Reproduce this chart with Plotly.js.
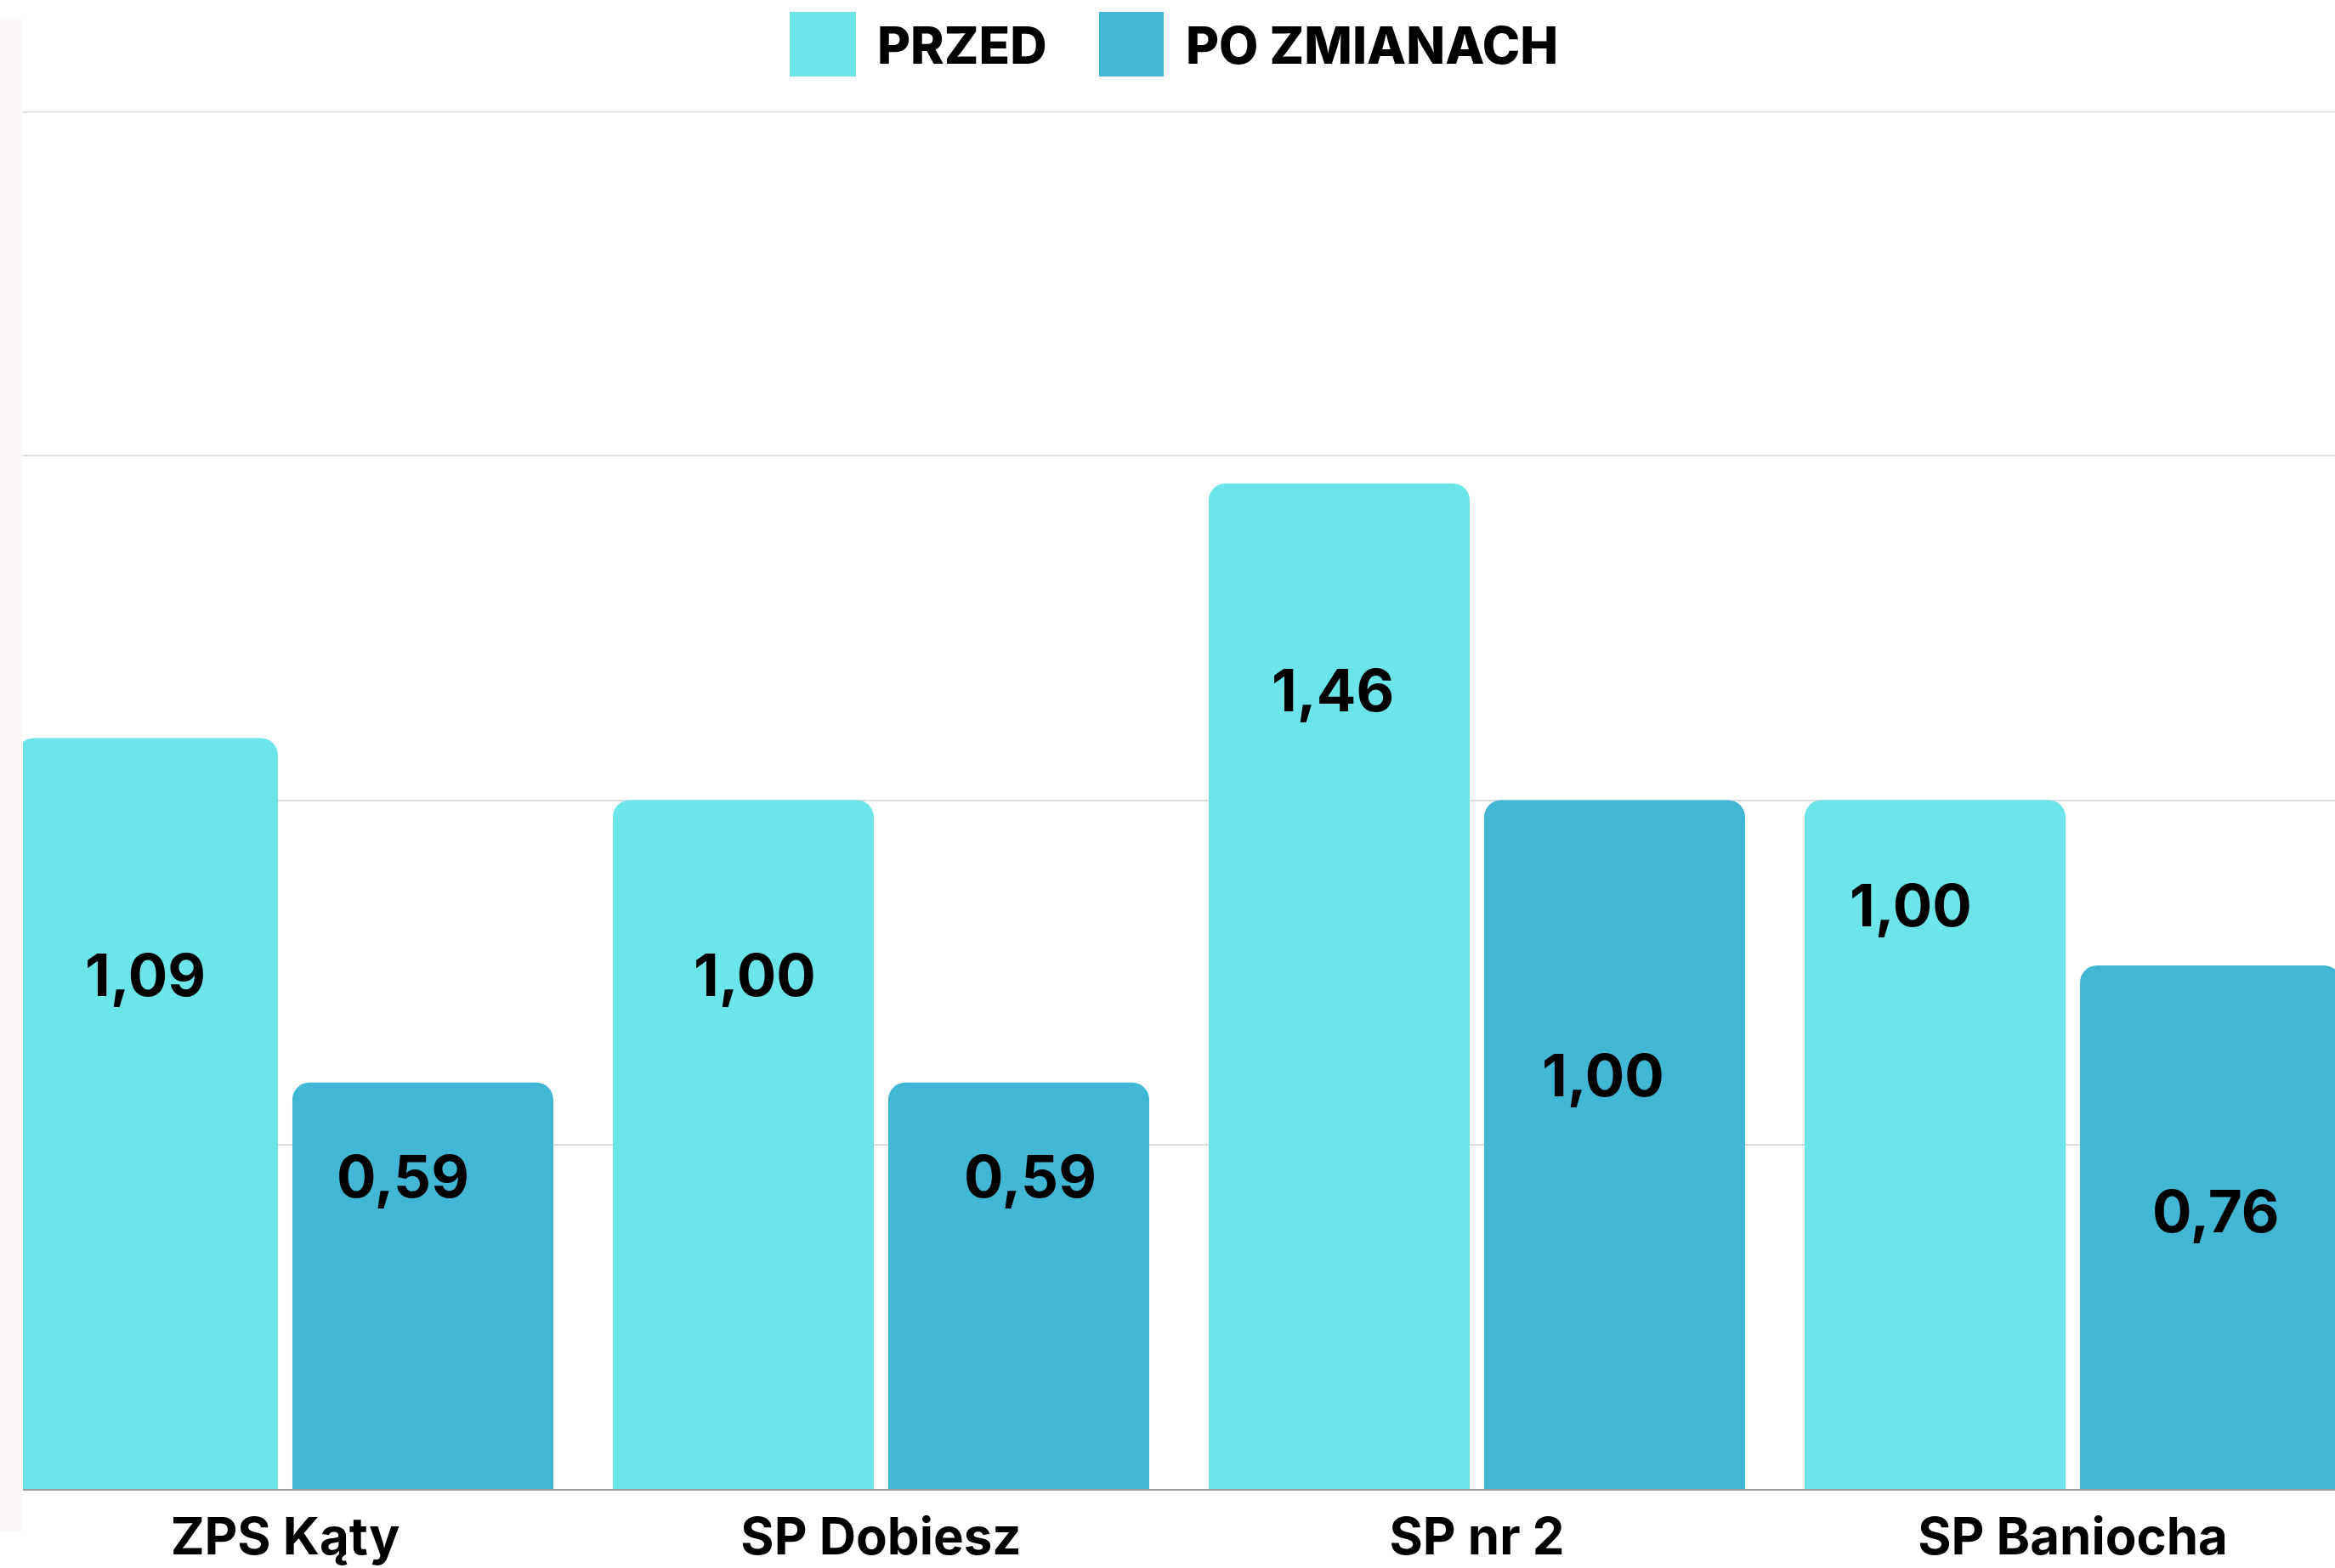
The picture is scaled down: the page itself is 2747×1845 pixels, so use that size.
<!DOCTYPE html>
<html>
<head>
<meta charset="utf-8">
<script src="https://cdn.plot.ly/plotly-3.0.1.min.js"></script>
<style>html,body{margin:0;padding:0;background:#ffffff;overflow:hidden}</style>
</head>
<body>
<div id="chart" style="width:2747px;height:1845px"></div>
<script>
// ---- data ----
const categories = ['ZPS Kąty', 'SP Dobiesz', 'SP nr 2', 'SP Baniocha'];
const seriesNames = ['PRZED', 'PO ZMIANACH'];
const przed = [1.09, 1.00, 1.46, 1.00];
const poZmianach = [0.59, 0.59, 1.00, 0.76];

// ---- label placement (value units / pixel nudges) ----
const przedLabelY = [0.746, 0.746, 1.160, 0.848];
const poLabelY = [0.454, 0.454, 0.601, 0.403];
const przedLabelDx = [-2, 14, -8, -29];
const poLabelDx = [-23, 14, -14, 6];

// ---- styles ----
const colors = ['#6ce5e8', '#42b6d5'];
const W = 2747, H = 1845;
const M = {l: 27, r: 0, t: 131, b: 93};
const bargap = 0.0756;
const off = (1 - bargap) / 4;

const fmt = v => v.toFixed(2).replace('.', ',');

const traces = [przed, poZmianach].map((vals, k) => ({
  type: 'bar',
  name: seriesNames[k],
  x: categories,
  y: vals,
  marker: {color: colors[k], cornerradius: 20, line: {width: 0}},
  hoverinfo: 'skip',
  showlegend: false
}));

const annotations = [];
const labelY = [przedLabelY, poLabelY];
const labelDx = [przedLabelDx, poLabelDx];
[przed, poZmianach].forEach((vals, k) => {
  vals.forEach((v, i) => {
    annotations.push({
      x: i + (k === 0 ? -off : off),
      y: labelY[k][i],
      xref: 'x', yref: 'y',
      text: fmt(v),
      showarrow: false,
      xanchor: 'center', yanchor: 'middle',
      xshift: labelDx[k][i],
      font: {family: 'Inter, sans-serif', size: 69, color: '#000000', weight: 700}
    });
  });
});

// manual legend (paper coords)
const pw = W - M.l - M.r, ph = H - M.t - M.b;
const px = x => (x - M.l) / pw;
const py = y => (H - M.b - y) / ph;
const legendSquares = [[929, 1007], [1293, 1369]];
const legendTextX = [1030, 1393];
const shapes = [];
legendSquares.forEach((s, k) => {
  shapes.push({
    type: 'rect', xref: 'paper', yref: 'paper',
    x0: px(s[0]), x1: px(s[1]), y0: py(90), y1: py(14),
    fillcolor: colors[k], line: {width: 0}, layer: 'above'
  });
  annotations.push({
    xref: 'paper', yref: 'paper',
    x: px(legendTextX[k]), y: py(53),
    xanchor: 'left', yanchor: 'middle',
    text: seriesNames[k], showarrow: false,
    font: {family: 'Inter, sans-serif', size: 60, color: '#000000', weight: 800}
  });
});
// faint left strip
shapes.push({
  type: 'rect', xref: 'paper', yref: 'paper',
  x0: px(0), x1: px(26), y0: py(1802), y1: py(21),
  fillcolor: '#fdf7f8', line: {width: 0}, layer: 'below'
});
// top gridline (at the top of the value range)
shapes.push({
  type: 'line', xref: 'paper', yref: 'y',
  x0: 0, x1: 1, y0: 2, y1: 2,
  line: {color: '#dadddd', width: 3}, layer: 'below'
});

const layout = {
  width: W, height: H,
  margin: M,
  paper_bgcolor: '#ffffff',
  plot_bgcolor: '#ffffff',
  barmode: 'group',
  bargap: bargap,
  bargroupgap: 0.0525,
  showlegend: false,
  xaxis: {
    type: 'category',
    range: [-0.44, 3.44],
    showgrid: false,
    showline: true,
    linecolor: '#9c9c9c',
    linewidth: 2,
    ticks: '',
    ticklabelstandoff: 3,
    tickfont: {family: 'Inter, sans-serif', size: 60, color: '#000000', weight: 700},
    fixedrange: true
  },
  yaxis: {
    range: [0, 2],
    dtick: 0.5,
    showticklabels: false,
    ticks: '',
    showgrid: true,
    gridcolor: '#dadddd',
    gridwidth: 2,
    zeroline: false,
    showline: false,
    fixedrange: true
  },
  annotations: annotations,
  shapes: shapes
};

Plotly.newPlot('chart', traces, layout, {displayModeBar: false, staticPlot: true});
</script>
</body>
</html>
